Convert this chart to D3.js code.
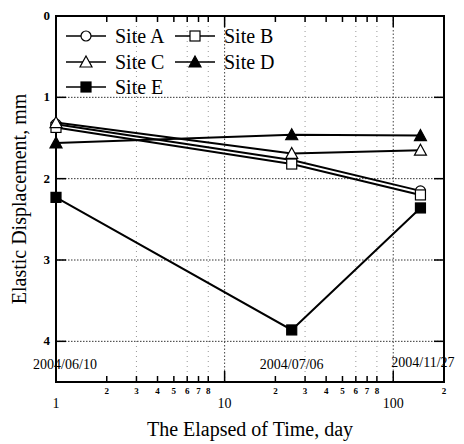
<!DOCTYPE html>
<meta charset="utf-8">
<script src="https://d3js.org/d3.v7.min.js"></script>
<style>
  body { margin: 0; background: #fff; }
  text { font-family: "Liberation Serif", "Times New Roman", serif; fill: #000; }
</style>
<div id="chart"></div>
<script>

    // days elapsed since 2004/06/10
    var days = [1, 25, 145];
    var dateLabels = ["2004/06/10", "2004/07/06", "2004/11/27"];

    // elastic displacement, mm
    var siteA = [1.33, 1.77, 2.15];
    var siteB = [1.37, 1.82, 2.20];
    var siteC = [1.31, 1.69, 1.65];
    var siteD = [1.56, 1.46, 1.47];
    var siteE = [2.23, 3.86, 2.36];

    var seriesNames = ["Site A", "Site B", "Site C", "Site D", "Site E"];
    var seriesShapes = ["circle", "square", "triangle", "triangle", "square"];
    var seriesFilled = [false, false, false, true, true];
    var seriesValues = [siteA, siteB, siteC, siteD, siteE];

    var yTicks = [0, 1, 2, 3, 4];
    var majorX = [1, 10, 100];
    var minorX = [2, 3, 4, 5, 6, 7, 8, 20, 30, 40, 50, 60, 70, 80, 200];
    var gridX = [3, 6, 8, 10, 30, 60, 80, 100];

    var W = 464, H = 444;
    // plot box edges (note: "top" is reserved on window, so use pT etc.)
    var pL = 56, pR = 444, pT = 16, pB = 382;

    var svg = d3.select("#chart").append("svg")
        .attr("width", W).attr("height", H);

    var x = d3.scaleLog().domain([1, 200]).range([pL, pR]);
    var y = d3.scaleLinear().domain([0, 4.5]).range([pT, pB]);

    // dotted grid
    svg.selectAll(".hgrid").data([1, 2, 3, 4]).enter().append("line")
        .attr("x1", pL).attr("x2", pR)
        .attr("y1", d => y(d)).attr("y2", d => y(d))
        .attr("stroke", "#333").attr("stroke-width", 1)
        .attr("stroke-dasharray", "1.5,1.5");
    svg.selectAll(".vgrid").data(gridX).enter().append("line")
        .attr("x1", d => x(d)).attr("x2", d => x(d))
        .attr("y1", pT).attr("y2", pB)
        .attr("stroke", d => (d === 10 || d === 100) ? "#444" : "#999")
        .attr("stroke-width", 1)
        .attr("stroke-dasharray", d => (d === 10 || d === 100) ? "1.5,2" : "1,4");

    // frame
    svg.append("rect")
        .attr("x", pL).attr("y", pT)
        .attr("width", pR - pL).attr("height", pB - pT)
        .attr("fill", "none").attr("stroke", "#000").attr("stroke-width", 2);

    // x ticks (inside, bottom and top)
    [pB, pT].forEach(function(yy, i) {
        var dir = i === 0 ? -1 : 1;
        svg.selectAll(".mj" + i).data(majorX).enter().append("line")
            .attr("x1", d => x(d)).attr("x2", d => x(d))
            .attr("y1", yy).attr("y2", yy + dir * 11)
            .attr("stroke", "#000").attr("stroke-width", 1.5);
        svg.selectAll(".mn" + i).data(minorX).enter().append("line")
            .attr("x1", d => x(d)).attr("x2", d => x(d))
            .attr("y1", yy).attr("y2", yy + dir * 6)
            .attr("stroke", "#000").attr("stroke-width", 1.5);
    });

    // y ticks (inside, left and right)
    svg.selectAll(".yt").data(yTicks.slice(1)).enter().append("line")
        .attr("x1", pL).attr("x2", pL + 10)
        .attr("y1", d => y(d)).attr("y2", d => y(d))
        .attr("stroke", "#000").attr("stroke-width", 1.5);
    svg.selectAll(".yt2").data(yTicks.slice(1)).enter().append("line")
        .attr("x1", pR).attr("x2", pR - 10)
        .attr("y1", d => y(d)).attr("y2", d => y(d))
        .attr("stroke", "#000").attr("stroke-width", 1.5);

    // y tick labels
    svg.selectAll(".yl").data(yTicks).enter().append("text")
        .attr("x", pL - 6).attr("y", d => y(d) + 4)
        .attr("text-anchor", "end")
        .style("font-size", "13px").style("font-weight", "bold")
        .text(d => d);

    // x tick labels
    svg.selectAll(".xl").data(majorX).enter().append("text")
        .attr("x", d => x(d)).attr("y", 408)
        .attr("text-anchor", "middle")
        .style("font-size", "14px")
        .text(d => d);
    svg.selectAll(".xs").data(minorX).enter().append("text")
        .attr("x", d => x(d)).attr("y", 394)
        .attr("text-anchor", "middle")
        .style("font-size", "9px").style("font-weight", "bold")
        .text(d => String(d)[0]);

    // date labels
    svg.selectAll(".dl").data(dateLabels).enter().append("text")
        .attr("x", (d, i) => i === 0 ? 65 : (i === 1 ? x(days[i]) : 423))
        .attr("y", (d, i) => i === 2 ? 367 : 369)
        .attr("text-anchor", "middle")
        .style("font-size", "14px")
        .text(d => d);

    // axis titles
    svg.append("text")
        .attr("x", 250).attr("y", 436)
        .attr("text-anchor", "middle")
        .style("font-size", "20px")
        .text("The Elapsed of Time, day");
    svg.append("text")
        .attr("transform", "translate(26," + ((pT + pB) / 2) + ") rotate(-90)")
        .attr("text-anchor", "middle")
        .style("font-size", "20px")
        .text("Elastic Displacement, mm");

    // marker drawing
    function marker(g, shape, filled, cx, cy) {
        var fill = filled ? "#000" : "#fff";
        if (shape === "circle") {
            g.append("circle").attr("cx", cx).attr("cy", cy).attr("r", 5)
                .attr("fill", fill).attr("stroke", "#000").attr("stroke-width", 1.2);
        } else if (shape === "square") {
            g.append("rect").attr("x", cx - 5).attr("y", cy - 5)
                .attr("width", 10).attr("height", 10)
                .attr("fill", fill).attr("stroke", "#000").attr("stroke-width", 1.2);
        } else {
            g.append("path")
                .attr("d", "M" + cx + "," + (cy - 6) + "L" + (cx + 6) + "," + (cy + 5) + "L" + (cx - 6) + "," + (cy + 5) + "Z")
                .attr("fill", fill).attr("stroke", "#000").attr("stroke-width", 1.2);
        }
    }

    var line = d3.line().x(d => x(d[0])).y(d => y(d[1]));

    seriesValues.forEach(function(vals, i) {
        var pts = days.map((d, j) => [d, vals[j]]);
        var g = svg.append("g");
        g.append("path").datum(pts)
            .attr("d", line)
            .attr("fill", "none").attr("stroke", "#000").attr("stroke-width", 2);
        pts.forEach(p => marker(g, seriesShapes[i], seriesFilled[i], x(p[0]), y(p[1])));
    });

    // legend
    var legPos = [[66, 36], [175, 36], [66, 62], [175, 62], [66, 87]];
    seriesNames.forEach(function(name, i) {
        var lx = legPos[i][0], ly = legPos[i][1];
        var g = svg.append("g");
        g.append("line").attr("x1", lx).attr("x2", lx + 40)
            .attr("y1", ly).attr("y2", ly)
            .attr("stroke", "#000").attr("stroke-width", 1.5);
        marker(g, seriesShapes[i], seriesFilled[i], lx + 20, ly);
        g.append("text").attr("x", lx + 49).attr("y", ly + 7)
            .style("font-size", "20px").text(name);
    });

</script>
